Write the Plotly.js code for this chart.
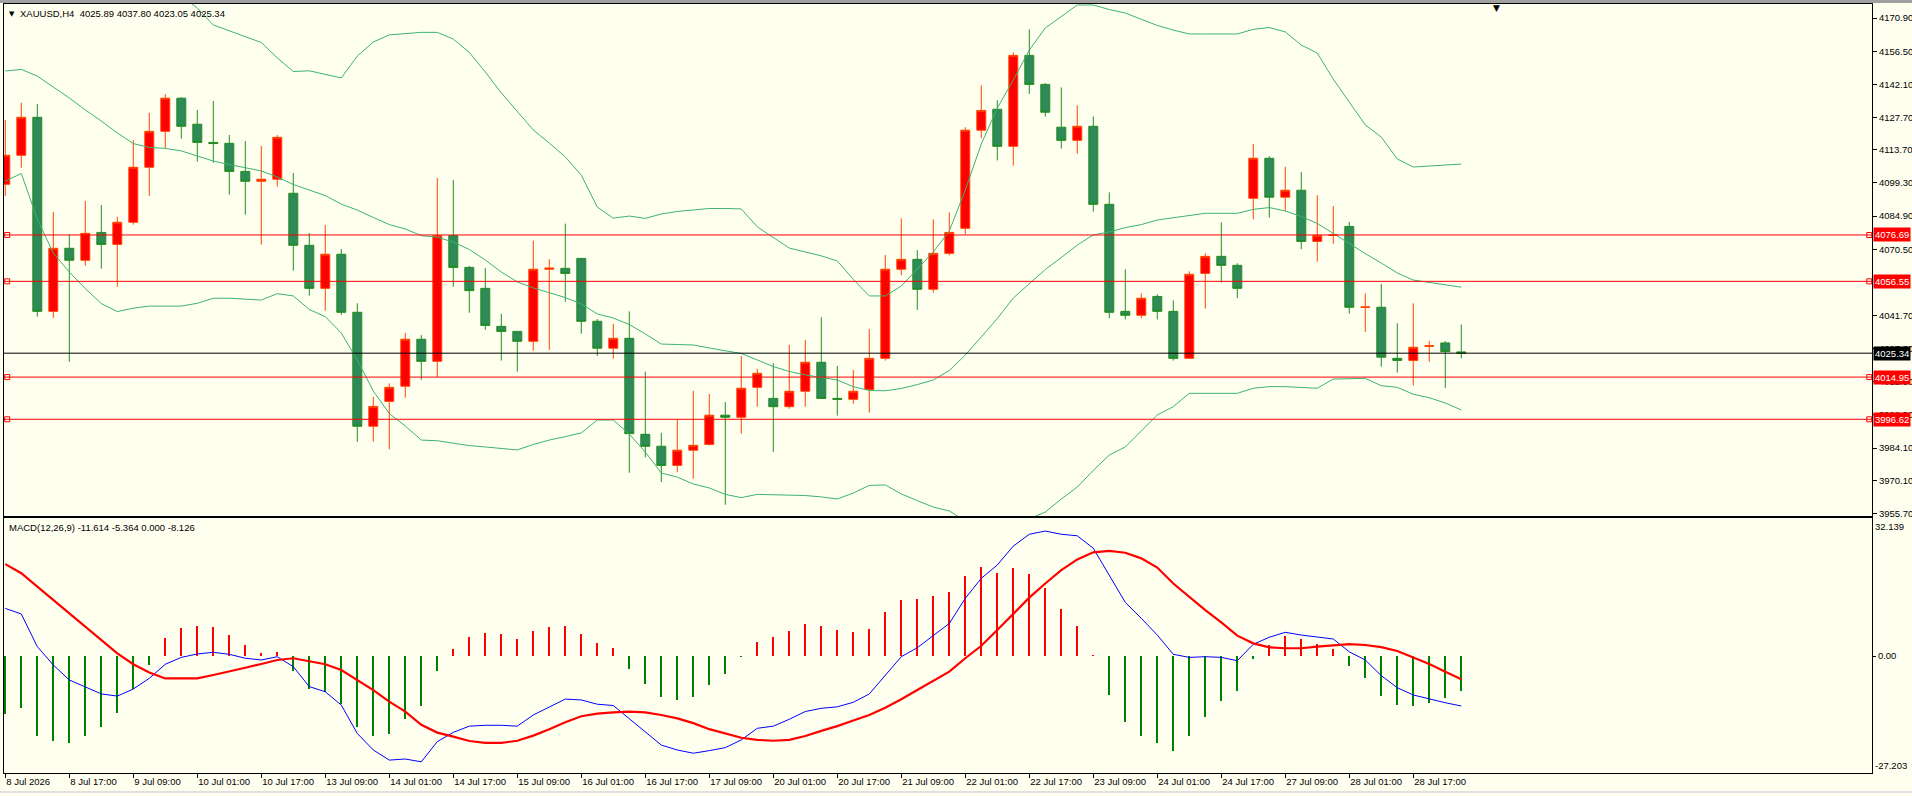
<!DOCTYPE html>
<html>
<head>
<meta charset="utf-8">
<title>XAUUSD,H4</title>
<script src="https://cdn.plot.ly/plotly-3.0.1.min.js"></script>
<style>
html, body { margin: 0; padding: 0; background: #FFFFF0; overflow: hidden; }
#chart { width: 1912px; height: 796px; }
</style>
</head>
<body>
<div id="chart"></div>
<script>
// XAUUSD H4, first candle = 8 Jul 2026 01:00 (one value per candle)
var openP = [4098.7,4111.3,4127.8,4043.5,4070.9,4065.7,4077.8,4072.6,4082.2,4106.1,4121.7,4136.1,4124.8,4116.9,4116.5,4104.3,
  4100.0,4100.9,4094.8,4072.2,4053.5,4068.3,4043.1,3993.6,4004.4,4011.0,4031.4,4021.8,4076.4,4062.6,4053.5,4037.0,
  4034.8,4030.5,4061.8,4062.2,4066.5,4039.2,4027.5,4031.8,3990.1,3984.9,3976.6,3983.2,3985.7,3998.4,3997.5,4010.5,
  4005.7,4002.1,4008.8,4021.4,4005.7,4005.3,4009.6,4023.1,4061.8,4066.1,4053.1,4068.7,4079.6,4122.2,4131.3,4115.2,
  4154.7,4142.1,4123.5,4117.8,4123.9,4090.0,4043.5,4041.8,4050.0,4043.5,4023.1,4060.0,4067.4,4063.5,4092.6,4110.0,
  4093.1,4096.1,4073.9,4076.5,4080.4,4045.3,4045.3,4023.1,4022.2,4028.3,4029.8,4025.89];
var highP = [4126.6,4134.1,4133.6,4086.7,4077.0,4091.4,4089.7,4084.6,4117.9,4129.7,4137.9,4136.5,4131.0,4134.9,4120.1,4117.5,
  4115.3,4120.1,4103.6,4077.5,4081.0,4070.5,4047.0,4006.4,4012.2,4034.1,4033.2,4101.4,4100.6,4063.2,4062.3,4042.4,
  4035.0,4074.2,4066.2,4081.6,4066.7,4040.1,4038.1,4043.5,4017.3,3990.7,3996.6,4009.0,4007.6,4004.1,4024.1,4018.5,
  4021.0,4028.9,4031.1,4041.0,4019.8,4018.0,4035.8,4068.0,4083.9,4070.1,4083.5,4086.5,4123.5,4141.7,4135.2,4156.0,
  4166.0,4142.6,4140.8,4133.0,4128.2,4095.2,4061.8,4051.3,4050.9,4048.3,4060.9,4068.7,4082.2,4064.4,4116.2,4110.9,
  4106.3,4104.0,4094.0,4089.3,4082.4,4051.3,4055.4,4038.4,4047.0,4030.6,4030.6,4037.80];
var lowP = [4093.7,4105.9,4041.2,4040.7,4021.6,4063.3,4062.0,4054.2,4081.2,4093.7,4114.3,4118.5,4108.5,4108.1,4094.2,4085.5,
  4072.5,4097.7,4061.2,4050.3,4043.8,4042.0,3986.8,3986.9,3983.6,4006.0,4013.8,4014.9,4054.2,4042.9,4035.5,4022.1,
  4017.3,4026.4,4026.8,4047.7,4033.8,4024.2,4022.9,3973.4,3980.1,3969.3,3973.6,3970.8,3985.3,3959.5,3990.4,4002.1,
  3982.5,4001.2,4002.1,4005.5,3998.2,4003.4,3999.5,4022.1,4059.2,4044.2,4051.6,4067.8,4077.0,4118.7,4109.1,4106.8,
  4138.0,4128.1,4114.2,4112.0,4086.8,4040.5,4040.0,4040.5,4040.0,4022.1,4022.9,4044.7,4056.1,4049.2,4083.5,4084.2,
  4087.0,4070.5,4065.1,4072.9,4042.5,4034.6,4019.5,4016.9,4011.2,4021.6,4010.3,4023.05];
var closeP = [4111.3,4127.8,4043.5,4070.9,4065.7,4077.4,4072.6,4082.2,4106.1,4121.7,4136.1,4123.9,4116.9,4116.4,4104.3,4100.0,
  4100.9,4119.1,4072.2,4053.5,4068.3,4043.1,3993.6,4002.2,4010.5,4031.4,4021.8,4076.4,4062.6,4052.5,4037.4,4034.8,
  4030.5,4061.8,4062.3,4060.0,4039.2,4027.5,4031.8,3990.4,3984.9,3976.6,3983.2,3985.3,3998.4,3997.5,4010.1,4016.6,
  4002.1,4008.8,4021.4,4005.7,4005.3,4008.8,4023.1,4061.8,4066.1,4053.1,4068.7,4077.8,4122.2,4130.8,4115.2,4154.7,
  4142.1,4130.0,4117.8,4123.9,4090.0,4043.1,4041.8,4049.2,4043.5,4023.1,4059.6,4067.4,4063.5,4053.5,4110.0,4093.1,
  4096.1,4073.9,4076.5,4076.7,4045.3,4045.4,4023.6,4022.2,4027.9,4028.6,4026.0,4025.34];

// Bollinger bands
var bbUpper = [4195.7,4193.8,4207.8,4213.2,4211.8,4208.6,4205.5,4198.6,4187.9,4183.6,4182.8,4180.6,4175.3,4167.9,4165.3,4162.7,
  4160.3,4153.6,4147.7,4148.0,4146.6,4144.9,4154.4,4160.5,4163.6,4164.3,4164.7,4164.7,4161.8,4156.0,4147.5,4138.4,
  4130.5,4122.3,4116.6,4110.6,4102.7,4088.8,4084.0,4084.9,4083.9,4085.8,4086.9,4087.7,4088.2,4088.2,4088.0,4080.2,
  4075.4,4071.0,4069.3,4067.6,4065.4,4057.4,4050.2,4050.2,4054.5,4061.9,4069.3,4078.4,4096.2,4116.2,4131.8,4144.0,
  4157.0,4166.6,4171.8,4176.6,4176.6,4174.6,4173.1,4170.5,4167.7,4165.7,4164.0,4164.0,4164.0,4164.0,4166.0,4166.8,
  4164.9,4159.2,4155.7,4144.4,4134.4,4124.5,4119.2,4109.7,4106.2,4106.6,4107.1,4107.5];
var bbMiddle = [4147.9,4148.6,4145.7,4141.0,4136.2,4131.0,4126.2,4121.0,4116.4,4114.7,4114.3,4113.2,4111.0,4108.8,4107.3,4106.0,
  4104.5,4101.9,4098.6,4096.2,4093.8,4090.1,4087.5,4084.3,4081.2,4079.3,4076.4,4075.7,4073.6,4070.4,4065.8,4060.6,
  4056.3,4053.7,4051.7,4049.5,4046.7,4042.4,4040.6,4037.8,4033.7,4029.3,4029.1,4028.9,4027.6,4026.3,4025.2,4022.4,
  4019.5,4017.4,4015.9,4014.8,4013.7,4010.8,4009.1,4009.0,4010.0,4011.7,4013.7,4017.8,4024.5,4032.4,4040.4,4049.3,
  4055.4,4061.7,4066.9,4072.3,4076.7,4078.0,4079.9,4081.2,4083.2,4084.1,4085.1,4086.1,4086.1,4086.1,4087.8,4088.6,
  4087.1,4084.7,4081.7,4077.3,4072.8,4068.6,4064.5,4060.2,4057.1,4056.0,4055.2,4054.0];
var bbLower = [4100.1,4103.4,4083.6,4068.8,4060.6,4053.4,4046.9,4043.4,4044.9,4045.8,4045.8,4045.8,4047.0,4049.2,4049.2,4048.9,
  4048.4,4051.2,4050.2,4044.3,4041.2,4034.1,4022.4,4008.9,3999.1,3993.7,3987.6,3987.3,3986.3,3985.2,3984.6,3984.0,
  3983.3,3985.7,3987.6,3989.1,3990.7,3996.3,3996.3,3990.2,3982.4,3973.3,3971.5,3968.5,3966.8,3964.0,3962.6,3964.0,
  3963.8,3963.6,3963.5,3962.9,3962.0,3964.6,3967.9,3968.1,3964.2,3961.3,3958.5,3956.8,3952.5,3949.5,3948.5,3950.5,
  3953.5,3956.3,3962.0,3967.2,3974.4,3981.1,3984.6,3991.5,3998.5,4002.1,4007.9,4007.9,4007.9,4007.9,4010.1,4010.8,
  4010.8,4010.5,4010.1,4014.1,4014.3,4014.4,4011.2,4010.5,4007.5,4006.0,4003.7,4000.7];

// MACD(12,26,9) window
var macdHist = [-13.4,-12.15,-18.5,-19.7,-20.15,-18.5,-16.4,-13.2,-7.66,-2.07,4.14,6.47,7.0,6.7,4.9,2.58,
  0.8,0.95,-3.4,-7.6,-8.35,-11.1,-16.4,-18.5,-18.1,-14.6,-11.6,-3.4,1.65,4.45,5.4,5.14,
  3.98,5.84,6.77,7.0,5.14,3.12,1.88,-3.0,-6.42,-9.52,-10.1,-9.52,-6.73,-4.17,-0.3,3.28,
  4.45,5.84,7.47,7.0,6.07,5.6,6.3,10.26,13.06,13.3,14.0,14.9,18.65,20.7,19.3,20.5,
  19.1,15.85,10.96,7.0,0.3,-9.0,-15.3,-18.5,-20.15,-22.0,-18.5,-14.1,-10.4,-8.05,-0.7,2.58,
  4.68,3.98,2.82,1.65,-2.23,-5.0,-9.2,-11.3,-11.5,-10.85,-9.7,-8.126];
var macdMain = [11.1,9.8,2.2,-2.07,-5.56,-7.1,-8.8,-9.3,-7.66,-5.17,-1.9,-0.3,0.5,0.88,0.42,-0.5,
  -0.9,-0.14,-2.46,-7.1,-8.3,-11.4,-18.0,-21.85,-24.2,-23.95,-24.6,-19.9,-17.75,-16.3,-16.1,-16.1,
  -16.3,-13.7,-11.8,-10.0,-10.2,-11.2,-11.5,-14.6,-17.6,-20.7,-21.85,-22.6,-22.0,-21.3,-19.5,-16.8,
  -16.3,-14.7,-12.9,-12.15,-11.8,-10.75,-8.8,-4.4,-0.14,1.96,4.75,7.6,13.45,18.1,21.2,25.6,
  28.35,29.1,28.35,28.0,25.1,18.9,12.5,8.8,4.9,0.42,-0.3,-0.14,-0.3,-1.07,2.75,4.38,
  5.54,4.9,4.5,3.98,1.0,-0.9,-4.56,-7.35,-9.05,-10.0,-10.85,-11.614];
var macdSignal = [21.4,19.3,16.15,13.06,9.8,6.85,3.75,0.65,-1.9,-3.8,-5.2,-5.25,-5.2,-4.4,-3.47,-2.7,
  -1.84,-0.9,-0.5,-1.14,-1.9,-3.23,-5.56,-7.9,-10.6,-12.9,-16.0,-17.8,-18.75,-19.76,-20.2,-20.2,
  -19.7,-18.5,-17.0,-15.4,-14.0,-13.4,-13.1,-12.9,-13.1,-13.7,-14.5,-15.6,-17.0,-18.0,-19.0,-19.5,
  -19.7,-19.5,-18.6,-17.4,-16.3,-15.0,-13.7,-12.0,-10.05,-7.9,-5.7,-3.63,-0.5,2.4,6.07,9.8,
  13.6,16.9,20.0,22.5,24.15,24.5,24.05,22.75,20.6,16.9,13.8,10.7,7.85,4.75,2.97,2.05,
  1.83,1.83,2.2,2.5,2.8,2.58,2.1,1.2,-0.3,-1.84,-3.63,-5.364];

// time labels, one every 4 candles
var timeLabels = ["8 Jul 2026","8 Jul 17:00","9 Jul 09:00","10 Jul 01:00","10 Jul 17:00","13 Jul 09:00",
  "14 Jul 01:00","14 Jul 17:00","15 Jul 09:00","16 Jul 01:00","16 Jul 17:00","17 Jul 09:00",
  "20 Jul 01:00","20 Jul 17:00","21 Jul 09:00","22 Jul 01:00","22 Jul 17:00","23 Jul 09:00",
  "24 Jul 01:00","24 Jul 17:00","27 Jul 09:00","28 Jul 01:00","28 Jul 17:00"];
// 4056.10 sits under the 4056.55 level box, so it is left out
var priceTicks = [4170.90,4156.50,4142.10,4127.70,4113.70,4099.30,4084.90,4070.50,
  4041.70,4027.30,4012.90,3998.50,3984.10,3970.10,3955.70];
var levels = [4076.69, 4056.55, 4014.95, 3996.62];
var bidPrice = 4025.34;
var macdMax = 32.139;
var macdMin = -27.203;

var xRange = [-0.081, 116.67];
var fontName = "Liberation Sans, Arial, sans-serif";

function range(n){
    var v = [];
    for(var i = 0; i < n; i++){
        v.push(i);
    }
    return v;
}

function makeChart(){
    var X = range(openP.length);
    var tickPos = [];
    for(var i = 0; i < timeLabels.length; i++){
        tickPos.push(i*4);
    }

    var candles = {
        type: 'candlestick',
        x: X, open: openP, high: highP, low: lowP, close: closeP,
        increasing: {line: {color: '#FF4500', width: 1}, fillcolor: '#FF0000'},
        decreasing: {line: {color: '#228B22', width: 1}, fillcolor: '#2E8B57'},
        xaxis: 'x', yaxis: 'y', hoverinfo: 'skip', showlegend: false
    };
    function band(arr){
        return {type: 'scatter', mode: 'lines', x: X, y: arr, xaxis: 'x', yaxis: 'y',
            line: {color: '#3CB371', width: 1}, hoverinfo: 'skip', showlegend: false};
    }

    // hollow squares at both ends of each level line
    var sqX = [], sqY = [];
    for(var k = 0; k < levels.length; k++){
        sqX.push(xRange[0] + 0.2, xRange[1] - 0.17);
        sqY.push(levels[k], levels[k]);
    }
    var squares = {type: 'scatter', mode: 'markers', x: sqX, y: sqY, xaxis: 'x', yaxis: 'y',
        marker: {symbol: 'square-open', size: 5, color: '#FF0000', line: {width: 1, color: '#FF0000'}},
        cliponaxis: false, hoverinfo: 'skip', showlegend: false};

    var histColors = macdHist.map(function(v){ return v >= 0 ? '#FF0000' : '#008000'; });
    var hist = {type: 'bar', x: X, y: macdHist, width: 0.13, xaxis: 'x2', yaxis: 'y2',
        marker: {color: histColors, line: {width: 0}}, hoverinfo: 'skip', showlegend: false};
    var mainLine = {type: 'scatter', mode: 'lines', x: X, y: macdMain, xaxis: 'x2', yaxis: 'y2',
        line: {color: '#0000FF', width: 1}, hoverinfo: 'skip', showlegend: false};
    var sigLine = {type: 'scatter', mode: 'lines', x: X, y: macdSignal, xaxis: 'x2', yaxis: 'y2',
        line: {color: '#FF0000', width: 2.2}, hoverinfo: 'skip', showlegend: false};

    var data = [candles, band(bbUpper), band(bbMiddle), band(bbLower), squares, hist, mainLine, sigLine];

    var shapes = [];
    for(var k = 0; k < levels.length; k++){
        shapes.push({type: 'line', xref: 'x', yref: 'y', x0: xRange[0], x1: xRange[1], y0: levels[k], y1: levels[k],
            line: {color: '#FF0000', width: 1}});
    }
    shapes.push({type: 'line', xref: 'x', yref: 'y', x0: xRange[0], x1: xRange[1], y0: bidPrice, y1: bidPrice,
        line: {color: '#000000', width: 1}});
    // window frame: grey strip on top, light line at the bottom
    shapes.push({type: 'rect', xref: 'paper', yref: 'paper', x0: -0.01, x1: 1.03, y0: 1 + 1/769, y1: 1 + 4/769,
        fillcolor: '#A0A0A0', line: {width: 0}, layer: 'below'});
    shapes.push({type: 'rect', xref: 'paper', yref: 'paper', x0: -0.01, x1: 1.03, y0: -20/769, y1: -18/769,
        fillcolor: '#E0E0E0', line: {width: 0}, layer: 'below'});

    var annotations = [
        {xref: 'paper', yref: 'paper', x: 0, y: 1, xanchor: 'left', yanchor: 'top', xshift: 3, yshift: -4,
            text: '▼', showarrow: false, font: {family: 'DejaVu Sans', size: 7, color: '#000'}},
        {xref: 'paper', yref: 'paper', x: 0, y: 1, xanchor: 'left', yanchor: 'top', xshift: 14, yshift: -2,
            text: 'XAUUSD,H4  4025.89 4037.80 4023.05 4025.34', showarrow: false,
            font: {family: fontName, size: 9.5, color: '#000'}},
        {xref: 'x', yref: 'paper', x: 93.2, y: 1, xanchor: 'center', yanchor: 'top', yshift: 3,
            text: '▼', showarrow: false, font: {family: 'DejaVu Sans', size: 9, color: '#000'}},
        {xref: 'paper', yref: 'y2', x: 0, y: macdMax, xanchor: 'left', yanchor: 'top', xshift: 3, yshift: -2,
            text: 'MACD(12,26,9) -11.614 -5.364 0.000 -8.126', showarrow: false,
            font: {family: fontName, size: 9.5, color: '#000'}},
        {xref: 'paper', yref: 'y2', x: 1, y: macdMax, xanchor: 'left', yanchor: 'top', xshift: 1, yshift: -1,
            text: macdMax.toFixed(3), showarrow: false, font: {family: fontName, size: 9.5, color: '#000'}},
        {xref: 'paper', yref: 'y2', x: 1, y: macdMin, xanchor: 'left', yanchor: 'bottom', xshift: 1, yshift: 0,
            text: macdMin.toFixed(3), showarrow: false, font: {family: fontName, size: 9.5, color: '#000'}}
    ];
    for(var k = 0; k < levels.length; k++){
        annotations.push({xref: 'paper', yref: 'y', x: 1, y: levels[k], xanchor: 'left', yanchor: 'middle', xshift: 1,
            text: levels[k].toFixed(2), showarrow: false, bgcolor: '#FF0000', borderpad: 1,
            font: {family: fontName, size: 9.5, color: '#FFFFFF'}});
    }
    annotations.push({xref: 'paper', yref: 'y', x: 1, y: bidPrice, xanchor: 'left', yanchor: 'middle', xshift: 1,
        text: bidPrice.toFixed(2), showarrow: false, bgcolor: '#000000', borderpad: 1,
        font: {family: fontName, size: 9.5, color: '#FFFFFF'}});

    var axisFont = {family: fontName, size: 9.5, color: '#000'};
    var layout = {
        width: 1912, height: 796,
        margin: {l: 4, r: 40, t: 4, b: 23},
        paper_bgcolor: '#FFFFF0', plot_bgcolor: '#FFFFF0',
        showlegend: false, hovermode: false,
        boxgap: 0.44, boxgroupgap: 0, bargap: 0,
        xaxis: {domain: [0, 1], range: xRange, anchor: 'y', showline: true, mirror: true,
            linecolor: '#000', linewidth: 1, showgrid: false, zeroline: false, showticklabels: false,
            ticks: '', rangeslider: {visible: false}, fixedrange: true},
        yaxis: {domain: [0.3342, 1], range: [3954.61, 4177.02], side: 'right', anchor: 'x',
            showline: true, mirror: true, linecolor: '#000', linewidth: 1, showgrid: false, zeroline: false,
            tickvals: priceTicks, ticktext: priceTicks.map(function(v){ return v.toFixed(2); }),
            ticks: 'outside', ticklen: 4, tickcolor: '#000', tickfont: axisFont, fixedrange: true},
        xaxis2: {domain: [0, 1], range: xRange, anchor: 'y2', matches: 'x', showline: true, mirror: true,
            linecolor: '#000', linewidth: 1, showgrid: false, zeroline: false,
            tickvals: tickPos, ticktext: timeLabels, ticks: 'outside', ticklen: 4, tickcolor: '#000',
            ticklabelposition: 'outside right', tickfont: axisFont, rangeslider: {visible: false}, fixedrange: true},
        yaxis2: {domain: [0, 0.3316], range: [macdMin, macdMax], side: 'right', anchor: 'x2',
            showline: true, mirror: true, linecolor: '#000', linewidth: 1, showgrid: false, zeroline: false,
            tickvals: [0], ticktext: ['0.00'], ticks: 'outside', ticklen: 3, tickcolor: '#000',
            tickfont: axisFont, fixedrange: true},
        shapes: shapes,
        annotations: annotations
    };
    Plotly.newPlot('chart', data, layout, {displayModeBar: false, staticPlot: true});
}

makeChart();
</script>
</body>
</html>
